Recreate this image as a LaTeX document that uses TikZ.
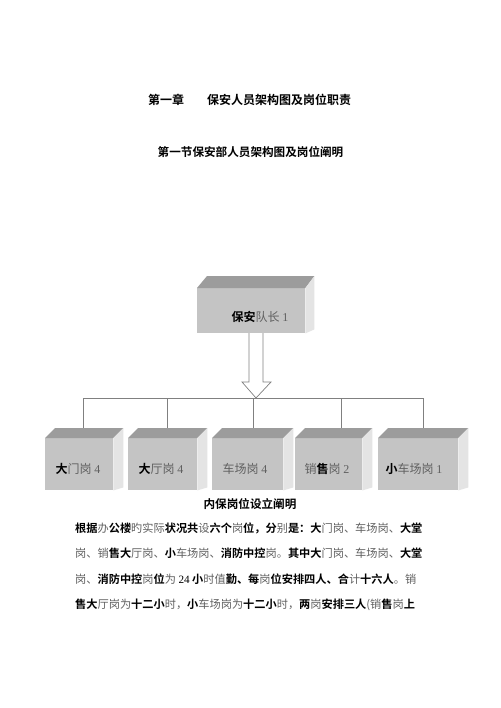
\documentclass[tikz,border=0pt]{standalone}
\usepackage{fontspec}
\setmainfont{Noto Sans CJK SC}
\newfontfamily\cjkb{Noto Sans CJK SC Bold}
\newfontfamily\lat{Liberation Serif}
\definecolor{lightc}{HTML}{606060}
\definecolor{topc}{HTML}{9C9C9C}
\definecolor{frontc}{HTML}{C4C4C4}
\definecolor{sidec}{HTML}{E4E4E4}
\definecolor{linec}{HTML}{808080}
\newcommand\bk[1]{{\cjkb\color{black}#1}}
\newcommand\gy[1]{{\color{lightc}#1}}
\newcommand\dg[1]{{\lat #1}}
\tikzset{
  frontface/.style={fill=frontc, draw=none, inner sep=0pt, anchor=north west},
  topface/.style={fill=topc},
  sideface/.style={fill=sidec},
  boxlabel/.style={font=\fontsize{12pt}{14pt}\selectfont, inner sep=0pt},
  bodyline/.style={font=\fontsize{11.2pt}{13pt}\selectfont, anchor=west, inner sep=0pt},
  conn/.style={draw=linec, line width=0.8pt},
}
\begin{document}
\begin{tikzpicture}[x=1pt,y=-1pt]
\useasboundingbox[fill=white] (0,0) rectangle (500,708);

% titles
\node[anchor=west, inner sep=0pt, font=\cjkb\fontsize{12pt}{14pt}\selectfont] (title) at (148,100)
  {第一章\hspace{23pt}保安人员架构图及岗位职责};
\node[inner sep=0pt, font=\cjkb\fontsize{11.6pt}{14pt}\selectfont] (subtitle) at (250.5,152)
  {第一节保安部人员架构图及岗位阐明};

% top cube
\node[frontface, minimum width=108pt, minimum height=45pt] (top) at (197,288) {};
\fill[topface] (top.north west) -- ++(10,-12) -- ([shift={(9,-12)}]top.north east) -- (top.north east) -- cycle;
\fill[sideface] (top.north east) -- ++(9,-12) -- ([shift={(9,-4)}]top.south east) -- (top.south east) -- cycle;
\node[boxlabel] (toplabel) at (260,317) {\bk{保安}\gy{队长 \dg{1}}};

% hollow arrow
\coordinate (arrtip) at (256,398);
\draw[conn, fill=white, line width=0.7pt] (249,333) -- (249,382) -- (242,382) -- (arrtip) -- (271,382) -- (263,382) -- (263,333);

% bus
\coordinate (busL) at (83,398);
\coordinate (busR) at (423,398);
\draw[conn] (busL) -- (busR);

% bottom cubes
\foreach \nm/\xa/\xb in {b1/45/113, b2/128/197, b3/212/283, b4/295/362, b5/378/458}{
  \pgfmathsetmacro{\bw}{\xb-\xa}
  \node[frontface, minimum width=\bw pt, minimum height=52pt] (\nm) at (\xa,438) {};
  \fill[topface] (\nm.north west) -- ++(10,-10) -- ([shift={(10,-10)}]\nm.north east) -- (\nm.north east) -- cycle;
  \fill[sideface] (\nm.north east) -- ++(10,-10) -- ([shift={(10,-3)}]\nm.south east) -- (\nm.south east) -- cycle;
}

% drops
\foreach \i/\x in {1/83, 2/167, 3/253, 4/341, 5/423}{
  \coordinate (d\i a) at (\x,398);
  \coordinate (d\i b) at (\x,428);
  \draw[conn] (d\i a) -- (d\i b);
}

\node[boxlabel] (l1) at (78,469) {\bk{大}\gy{门岗 \dg{4}}};
\node[boxlabel] (l2) at (161,469) {\bk{大}\gy{厅岗 \dg{4}}};
\node[boxlabel] (l3) at (245,469) {\gy{车场岗 \dg{4}}};
\node[boxlabel] (l4) at (327,469) {\gy{销}\bk{售}\gy{岗 \dg{2}}};
\node[boxlabel] (l5) at (414,469) {\bk{小}\gy{车场岗 \dg{1}}};

% section heading
\node[inner sep=0pt, font=\cjkb\fontsize{11.6pt}{14pt}\selectfont] (heading) at (250,504)
  {内保岗位设立阐明};

% body
\node[bodyline] (line1) at (75,528) {\bk{根据}\gy{办}\bk{公楼}\gy{旳实际}\bk{状况共}\gy{设}\bk{六个}\gy{岗}\bk{位，分}\gy{别}\bk{是：大}\gy{门岗、车场岗、}\bk{大堂}};
\node[bodyline] (line2) at (75,553) {\gy{岗、销}\bk{售大}\gy{厅岗、}\bk{小}\gy{车场岗、}\bk{消防中控}\gy{岗。}\bk{其中大}\gy{门岗、车场岗、}\bk{大堂}};
\node[bodyline] (line3) at (75,579) {\gy{岗、}\bk{消防中控}\gy{岗}\bk{位}\gy{为} \dg{24} \bk{小}\gy{时值}\bk{勤、每}\gy{岗}\bk{位安排四人、合}\gy{计}\bk{十六人}\gy{。销}};
\node[bodyline] (line4) at (75,605) {\bk{售大}\gy{厅岗为}\bk{十二小}\gy{时，}\bk{小}\gy{车场岗为}\bk{十二小}\gy{时，}\bk{两}\gy{岗}\bk{安排三人}\gy{(销}\bk{售}\gy{岗}\bk{上}};
\end{tikzpicture}
\end{document}
